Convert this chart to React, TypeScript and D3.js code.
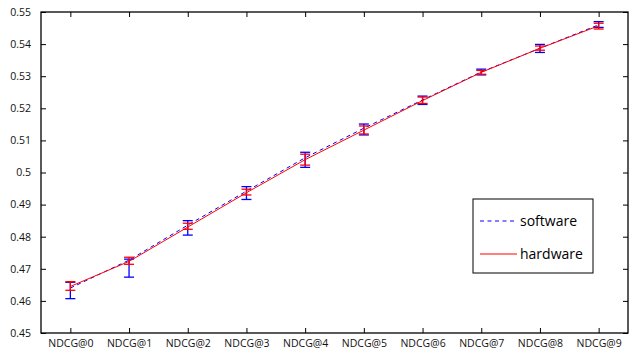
import React, { useEffect, useRef } from 'react';
import * as d3 from 'd3';

const categories = ['NDCG@0', 'NDCG@1', 'NDCG@2', 'NDCG@3', 'NDCG@4', 'NDCG@5', 'NDCG@6', 'NDCG@7', 'NDCG@8', 'NDCG@9'];

const softwareMean = [0.4640, 0.4727, 0.4836, 0.4942, 0.5046, 0.5138, 0.5226, 0.5313, 0.5387, 0.5460];
const softwareLow = [0.4607, 0.4674, 0.4805, 0.4916, 0.5016, 0.5117, 0.5212, 0.5304, 0.5374, 0.5452];
const softwareHigh = [0.4658, 0.4730, 0.4850, 0.4956, 0.5063, 0.5151, 0.5238, 0.5322, 0.5399, 0.5470];

const hardwareMean = [0.4645, 0.4723, 0.4830, 0.4937, 0.5040, 0.5132, 0.5224, 0.5312, 0.5387, 0.5457];
const hardwareLow = [0.4633, 0.4714, 0.4823, 0.4930, 0.5023, 0.5120, 0.5215, 0.5306, 0.5381, 0.5447];
const hardwareHigh = [0.4660, 0.4736, 0.4842, 0.4948, 0.5057, 0.5145, 0.5235, 0.5318, 0.5394, 0.5465];

const yTicks = [0.45, 0.46, 0.47, 0.48, 0.49, 0.5, 0.51, 0.52, 0.53, 0.54, 0.55];

const seriesNames = ['software', 'hardware'];

export default function App() {
  const svgRef = useRef<SVGSVGElement>(null);
  const width = 630;
  const height = 351;

  useEffect(() => {
    const svg = d3.select(svgRef.current);
    svg.selectAll('*').remove();

    const left = 41, right = 628, top = 12, bottom = 333;
    const font = '"Open Sans", "DejaVu Sans", sans-serif';

    const x = d3.scaleLinear().domain([-0.5, categories.length - 0.5]).range([left, right]);
    const y = d3.scaleLinear().domain([0.45, 0.55]).range([bottom, top]);

    const series = [
      { name: seriesNames[0], mean: softwareMean, low: softwareLow, high: softwareHigh, color: '#0000ff', dash: '4,3.5' },
      { name: seriesNames[1], mean: hardwareMean, low: hardwareLow, high: hardwareHigh, color: '#ff0000', dash: null },
    ];

    // Axes (MATLAB style box with inward ticks)
    const tickFmt = (d: d3.NumberValue) => {
      const v = +d;
      return v === 0.5 ? '0.5' : d3.format('.2f')(v);
    };

    const yLeft = svg.append('g')
      .attr('transform', `translate(${left},0)`)
      .call(d3.axisLeft(y).tickValues(yTicks).tickSize(-5).tickPadding(10).tickFormat(tickFmt));
    yLeft.select('.domain').remove();

    const yRight = svg.append('g')
      .attr('transform', `translate(${right},0)`)
      .call(d3.axisRight(y).tickValues(yTicks).tickSize(-5).tickFormat(() => ''));
    yRight.select('.domain').remove();

    const xBottom = svg.append('g')
      .attr('transform', `translate(0,${bottom})`)
      .call(d3.axisBottom(x).tickValues(d3.range(categories.length)).tickSize(-5).tickPadding(6.5)
        .tickFormat((d) => categories[+d]));
    xBottom.select('.domain').remove();

    const xTop = svg.append('g')
      .attr('transform', `translate(0,${top})`)
      .call(d3.axisTop(x).tickValues(d3.range(categories.length)).tickSize(-5).tickFormat(() => ''));
    xTop.select('.domain').remove();

    svg.selectAll('.tick line').attr('stroke', '#000').attr('stroke-width', 1);
    svg.selectAll('.tick text')
      .attr('fill', '#111')
      .style('font-family', font)
      .style('font-size', '10.5px');

    svg.append('rect')
      .attr('x', left)
      .attr('y', top)
      .attr('width', right - left)
      .attr('height', bottom - top)
      .attr('fill', 'none')
      .attr('stroke', '#000')
      .attr('stroke-width', 1.3);

    const line = d3.line<number>()
      .x((_, i) => x(i))
      .y((d) => y(d));

    const capW = 5;
    series.forEach((s) => {
      const g = svg.append('g');
      const path = g.append('path')
        .datum(s.mean)
        .attr('fill', 'none')
        .attr('stroke', s.color)
        .attr('stroke-width', 1)
        .attr('d', line);
      if (s.dash) path.attr('stroke-dasharray', s.dash);

      const bars = g.selectAll('.err')
        .data(s.mean)
        .enter()
        .append('g')
        .attr('stroke', s.color)
        .attr('stroke-width', 1.3);

      bars.append('line')
        .attr('x1', (_, i) => x(i)).attr('x2', (_, i) => x(i))
        .attr('y1', (_, i) => y(s.low[i])).attr('y2', (_, i) => y(s.high[i]));
      bars.append('line')
        .attr('x1', (_, i) => x(i) - capW).attr('x2', (_, i) => x(i) + capW)
        .attr('y1', (_, i) => y(s.low[i])).attr('y2', (_, i) => y(s.low[i]));
      bars.append('line')
        .attr('x1', (_, i) => x(i) - capW).attr('x2', (_, i) => x(i) + capW)
        .attr('y1', (_, i) => y(s.high[i])).attr('y2', (_, i) => y(s.high[i]));
    });

    // Legend
    const legend = svg.append('g').attr('transform', 'translate(473,199)');
    legend.append('rect')
      .attr('width', 120)
      .attr('height', 74)
      .attr('fill', '#fff')
      .attr('stroke', '#000')
      .attr('stroke-width', 1);

    series.forEach((s, i) => {
      const ly = 22 + i * 33;
      const l = legend.append('line')
        .attr('x1', 7).attr('x2', 44)
        .attr('y1', ly).attr('y2', ly)
        .attr('stroke', s.color)
        .attr('stroke-width', 1);
      if (s.dash) l.attr('stroke-dasharray', s.dash);
      legend.append('text')
        .attr('x', 47)
        .attr('y', ly + 5)
        .text(s.name)
        .attr('fill', '#000')
        .style('font-family', font)
        .style('font-size', '14px');
    });
  }, []);

  return (
    <div style={{ position: 'absolute', left: 0, top: 0 }}>
      <svg ref={svgRef} width={width} height={height} style={{ display: 'block', background: '#fff' }} />
    </div>
  );
}
